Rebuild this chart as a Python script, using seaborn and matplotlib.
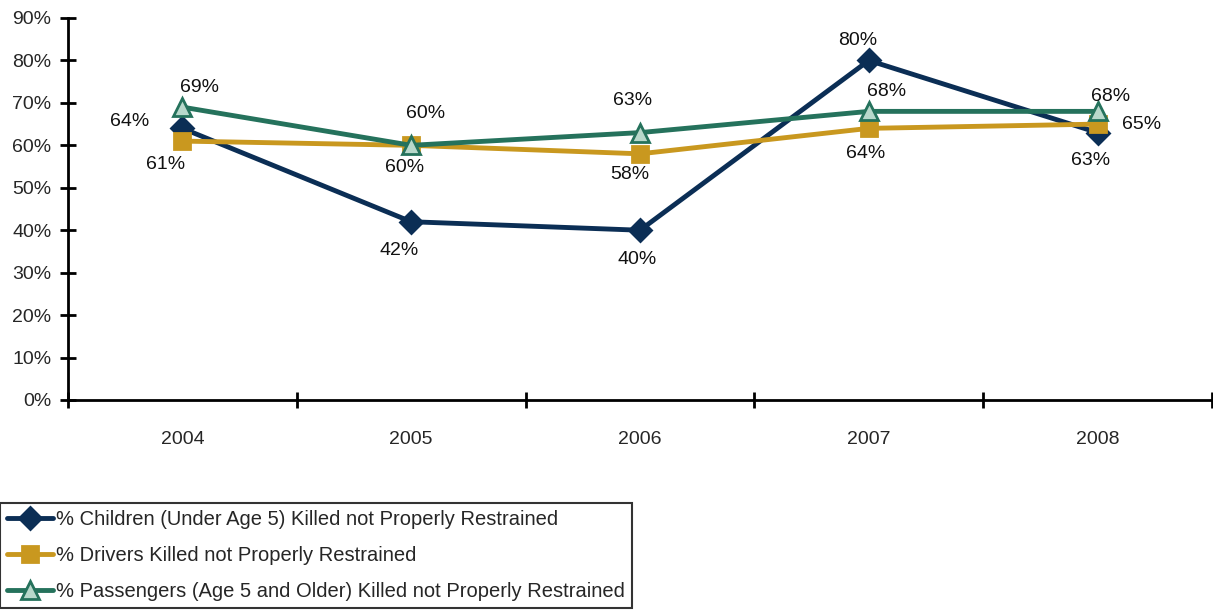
import matplotlib
matplotlib.use("Agg")
import matplotlib.pyplot as plt
import seaborn as sns
import pandas as pd
import numpy as np

years = ["2004", "2005", "2006", "2007", "2008"]
children = [64, 42, 40, 80, 63]
drivers = [61, 60, 58, 64, 65]
passengers = [69, 60, 63, 68, 68]
series_names = [
    "% Children (Under Age 5) Killed not Properly Restrained",
    "% Drivers Killed not Properly Restrained",
    "% Passengers (Age 5 and Older) Killed not Properly Restrained",
]

sns.set_style("white")
plt.rcParams["font.family"] = ["Liberation Sans", "DejaVu Sans"]

fig = plt.figure(figsize=(12.13, 6.14), dpi=100)
ax = fig.add_axes([68 / 1213, 1 - 400 / 614, 1 - 68 / 1213 - 1 / 1213, (400 - 18) / 614])

colors = ["#0b2e55", "#c9981f", "#25725c"]
markers = ["D", "s", "^"]
msizes = [11, 12, 13]
faces = ["#0b2e55", "#c9981f", "#b8d8cb"]
all_vals = [children, drivers, passengers]

idx = np.arange(len(years))
for name, vals, c, m, ms, fc in zip(series_names, all_vals, colors, markers, msizes, faces):
    df = pd.DataFrame({"x": idx, "y": vals})
    sns.lineplot(data=df, x="x", y="y", ax=ax, color=c, lw=3.5, marker=m,
                 markersize=ms, markerfacecolor=fc, markeredgecolor=c,
                 markeredgewidth=2, label=name, legend=False)

# data labels: offsets in points
fs = 14
label_offsets = {
    0: [(-38, 5), (-9, -21), (-2, -21), (-8, 14), (-5, -20)],
    1: [(-12, -17), (-5, -16), (-7, -15), (-2, -18), (32, 0)],
    2: [(12, 14), (10, 23), (-5, 23), (13, 14), (9, 11)],
}
for s, vals in enumerate(all_vals):
    for i, v in enumerate(vals):
        dx, dy = label_offsets[s][i]
        ax.annotate(f"{v}%", (i, v), xytext=(dx, dy), textcoords="offset points",
                    ha="center", va="center", fontsize=fs, color="#111111")

ax.set_xlim(-0.5, 4.5)
ax.set_ylim(0, 90)
ax.set_yticks(np.arange(0, 91, 10))
ax.set_yticklabels([f"{t}%" for t in range(0, 91, 10)], fontsize=fs)
ax.set_xticks(idx)
ax.set_xticklabels(years, fontsize=fs)
ax.set_xticks(np.arange(-0.5, 4.6, 1), minor=True)
ax.tick_params(axis="x", which="major", bottom=True, length=0, pad=22)
ax.tick_params(axis="x", which="minor", bottom=True, length=12, width=2,
               direction="inout", color="black")
ax.tick_params(axis="y", left=True, length=12, width=2, direction="inout", pad=6,
               color="black")
ax.set_xlabel("")
ax.set_ylabel("")
for sp in ["top", "right"]:
    ax.spines[sp].set_visible(False)
for sp in ["left", "bottom"]:
    ax.spines[sp].set_linewidth(2)
    ax.spines[sp].set_color("black")

h, l = ax.get_legend_handles_labels()
leg = fig.legend(h, l, loc="lower left", bbox_to_anchor=(0.0, 0.009), fontsize=14.5,
                 frameon=True, fancybox=False, edgecolor="black", handlelength=2.3,
                 handletextpad=0.15, borderpad=0.35, labelspacing=0.85, borderaxespad=0)
leg.get_frame().set_linewidth(1.5)

fig.savefig("out.png", dpi=100)
